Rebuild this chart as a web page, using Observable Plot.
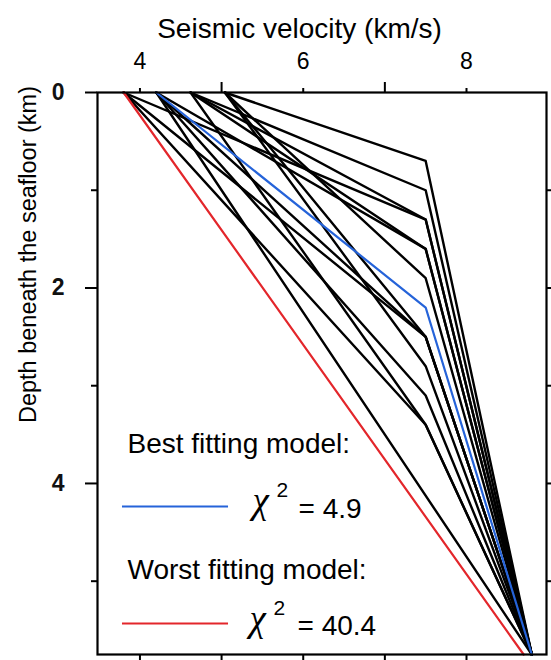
<!DOCTYPE html>
<html>
<head>
<meta charset="utf-8">
<script src="https://cdn.jsdelivr.net/npm/d3@7"></script>
<script src="https://cdn.jsdelivr.net/npm/@observablehq/plot@0.6"></script>
<style>
  html, body { margin: 0; padding: 0; background: #fff; }
</style>
</head>
<body>
<div id="chart"></div>
<script>
// ---- Data ----
// Each trial model: velocity at the seafloor, then a linear gradient to a kink at 7.5 km/s
// (at the given depth), then a linear gradient to the base of the model.
const modelTopVelocity = [5.04, 5.04, 5.04, 5.04, 4.62, 4.62, 4.62, 4.62, 4.2, 4.2, 4.2, 4.2, 3.8, 3.8, 3.8];
const modelKinkDepth   = [0.7,  1.9,  2.5,  2.8,  1.0,  1.3,  1.6,  3.4,  1.6, 2.5, 3.1, null, 1.3, 2.5, 3.4];
const kinkVelocity = 7.5;
const baseVelocity = 8.8;
const baseDepth = 5.75;

const bestTopVelocity = 4.2;
const bestKinkDepth = 2.2;
const bestChi2 = "4.9";

const worstTopVelocity = 3.8;
const worstBaseVelocity = 8.7;
const worstChi2 = "40.4";

const xTicksLabeled = [4, 6, 8];
const xTicksUnlabeled = [5, 7];
const xTicksBottom = [4, 5, 6, 7, 8];
const yTicksLabeled = [0, 2, 4];
const yTicksUnlabeled = [1, 3, 5];
const yTicksRight = [1, 2, 3, 4, 5];

const xTitle = "Seismic velocity (km/s)";
const yTitle = "Depth beneath the seafloor (km)";

// ---- Build tables ----
const rows = [];
modelTopVelocity.forEach((v0, i) => {
  const id = "m" + i;
  rows.push({id, v: v0, d: 0});
  if (modelKinkDepth[i] != null) rows.push({id, v: kinkVelocity, d: modelKinkDepth[i]});
  rows.push({id, v: baseVelocity, d: baseDepth});
});
const bestRows = [
  {v: bestTopVelocity, d: 0},
  {v: kinkVelocity, d: bestKinkDepth},
  {v: baseVelocity, d: baseDepth}
];
const worstRows = [
  {v: worstTopVelocity, d: 0},
  {v: worstBaseVelocity, d: baseDepth}
];

const BLUE = "#2563d9";
const RED = "#e3262b";
const SANS = "Liberation Sans, Arial, Helvetica, sans-serif";
const SERIF = "Liberation Serif, Times New Roman, serif";
const X0 = 3.48, X1 = 8.98, Y0 = 0, Y1 = 5.75;

const txt = (s, o) => Plot.text([s], {text: d => d, frameAnchor: "top-left", fill: "black", fontFamily: SANS, ...o});

const chart = Plot.plot({
  width: 551,
  height: 660,
  marginLeft: 97,
  marginRight: 5,
  marginTop: 92,
  marginBottom: 6,
  style: {fontFamily: SANS, color: "black", background: "white", overflow: "visible"},
  x: {domain: [X0, X1], axis: null},
  y: {domain: [Y0, Y1], reverse: true, axis: null},
  marks: [
    Plot.line(rows, {x: "v", y: "d", z: "id", stroke: "black", strokeWidth: 2.4}),
    Plot.line(worstRows, {x: "v", y: "d", stroke: RED, strokeWidth: 2.2}),
    Plot.line(bestRows, {x: "v", y: "d", stroke: BLUE, strokeWidth: 2.2}),
    Plot.frame({stroke: "black", strokeWidth: 2.2}),
    // top axis
    Plot.axisX(xTicksLabeled, {anchor: "top", tickSize: 5, strokeWidth: 2, text: null, label: null}),
    Plot.axisX(xTicksUnlabeled, {anchor: "top", tickSize: 11, strokeWidth: 2, text: null, label: null}),
    Plot.text(xTicksLabeled, {x: d => d, y: () => Y0, dy: -24, text: d => String(d), lineAnchor: "bottom", fontSize: 23, fill: "black", fontFamily: SANS}),
    // bottom axis
    Plot.axisX(xTicksBottom, {anchor: "bottom", tickSize: 6, strokeWidth: 2, text: null, label: null}),
    // left axis
    Plot.axisY(yTicksLabeled, {anchor: "left", tickSize: 12, strokeWidth: 2, text: null, label: null}),
    Plot.axisY(yTicksUnlabeled, {anchor: "left", tickSize: 6, strokeWidth: 2, text: null, label: null}),
    Plot.text(yTicksLabeled, {x: () => X0, y: d => d, dx: -33, text: d => String(d), textAnchor: "end", lineAnchor: "middle", fontSize: 23, fontWeight: "bold", fill: "#111", fontFamily: SANS}),
    // right axis
    Plot.axisY(yTicksRight, {anchor: "right", tickSize: 6, strokeWidth: 2, text: null, label: null}),
    // titles
    txt(xTitle, {dx: 202, dy: -55, textAnchor: "middle", lineAnchor: "bottom", fontSize: 28}),
    txt(yTitle, {dx: -62, dy: 162, rotate: -90, textAnchor: "middle", lineAnchor: "bottom", fontSize: 23.5}),
    // legend
    txt("Best fitting model:", {dx: 30, dy: 360, textAnchor: "start", lineAnchor: "bottom", fontSize: 28}),
    Plot.ruleY([4.236], {x1: 3.786, x2: 5.085, stroke: BLUE, strokeWidth: 2.2}),
    txt("χ", {dx: 155, dy: 420, textAnchor: "start", lineAnchor: "bottom", fontSize: 37, fontFamily: SERIF, fontStyle: "italic"}),
    txt("2", {dx: 179, dy: 404, textAnchor: "start", lineAnchor: "bottom", fontSize: 21}),
    txt("= " + bestChi2, {dx: 201, dy: 425, textAnchor: "start", lineAnchor: "bottom", fontSize: 28}),
    txt("Worst fitting model:", {dx: 30, dy: 486, textAnchor: "start", lineAnchor: "bottom", fontSize: 28}),
    Plot.ruleY([5.433], {x1: 3.786, x2: 5.085, stroke: RED, strokeWidth: 2.2}),
    txt("χ", {dx: 152, dy: 538, textAnchor: "start", lineAnchor: "bottom", fontSize: 37, fontFamily: SERIF, fontStyle: "italic"}),
    txt("2", {dx: 176, dy: 522, textAnchor: "start", lineAnchor: "bottom", fontSize: 21}),
    txt("= " + worstChi2, {dx: 200, dy: 542, textAnchor: "start", lineAnchor: "bottom", fontSize: 28})
  ]
});
document.getElementById("chart").appendChild(chart);
</script>
</body>
</html>
